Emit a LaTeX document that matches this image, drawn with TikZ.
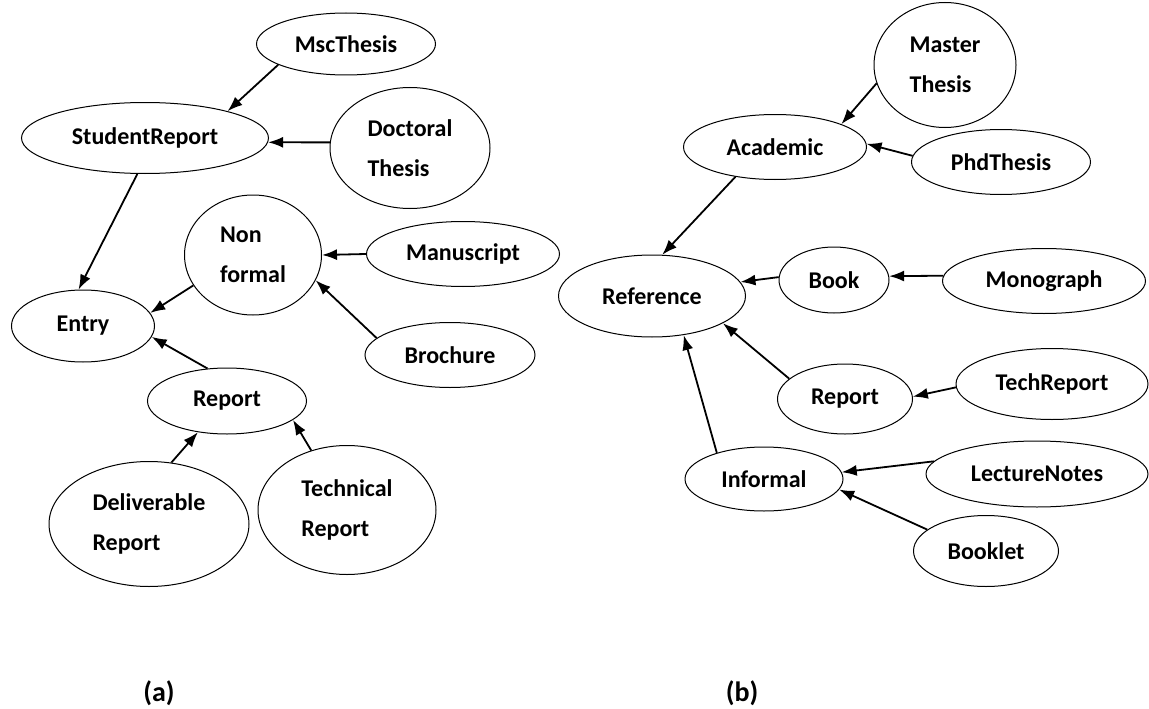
\documentclass[tikz,border=0pt]{standalone}
\usepackage{fontspec}
\setmainfont{Carlito}
\usetikzlibrary{shapes.geometric,arrows.meta}
\tikzset{
  cls/.style={draw, ellipse, line width=1pt, inner sep=0pt, align=left,
    font=\bfseries\fontsize{24}{40}\selectfont},
  isa/.style={-{Latex[length=15pt,width=11pt]}, line width=1.8pt},
  sublabel/.style={font=\bfseries\fontsize{28}{30}\selectfont}
}
\begin{document}
\begin{tikzpicture}[x=1pt,y=-1pt]
\useasboundingbox[fill=white] (0,0) rectangle (1149,709);
% (a)
\node[cls,minimum width=179pt,minimum height=62pt] (msc) at (346,44) {MscThesis};
\node[cls,minimum width=247pt,minimum height=71pt] (student) at (145,138) {StudentReport};
\node[cls,minimum width=160pt,minimum height=121pt] (doctoral) at (410,148) {Doctoral\\Thesis};
\node[cls,minimum width=137pt,minimum height=120pt] (nonformal) at (253,255) {Non\\formal};
\node[cls,minimum width=193pt,minimum height=65pt] (manuscript) at (463,254) {Manuscript};
\node[cls,minimum width=143pt,minimum height=72pt] (entry) at (83,326) {Entry};
\node[cls,minimum width=170pt,minimum height=65pt] (brochure) at (450,355) {Brochure};
\node[cls,minimum width=159pt,minimum height=66pt] (reporta) at (227,401) {Report};
\node[cls,minimum width=200pt,minimum height=125pt] (deliverable) at (149,524) {Deliverable\\Report};
\node[cls,minimum width=178pt,minimum height=129pt] (technical) at (347,510) {Technical\\Report};
\draw[isa] (msc.197) -- (student.18);
\draw[isa] (doctoral.176) -- (student.358);
\draw[isa] (student.258) -- (entry.97);
\draw[isa] (nonformal.207) -- (entry.11);
\draw[isa] (manuscript.west) -- (nonformal.east);
\draw[isa] (brochure.167) -- (nonformal.338);
\draw[isa] (reporta.121) -- (entry.351);
\draw[isa] (deliverable.70) -- (reporta.227);
\draw[isa] (technical.121) -- (reporta.344);
% (b)
\node[cls,minimum width=142pt,minimum height=125pt] (master) at (945,65) {Master\\Thesis};
\node[cls,minimum width=183pt,minimum height=65pt] (academic) at (775,147) {Academic};
\node[cls,minimum width=179pt,minimum height=65pt] (phd) at (1001,162) {PhdThesis};
\node[cls,minimum width=187pt,minimum height=82pt] (reference) at (652,296) {Reference};
\node[cls,minimum width=110pt,minimum height=66pt] (book) at (834,280) {Book};
\node[cls,minimum width=203pt,minimum height=65pt] (monograph) at (1044,281) {Monograph};
\node[cls,minimum width=135pt,minimum height=70pt] (reportb) at (845,399) {Report};
\node[cls,minimum width=192pt,minimum height=71pt] (techreport) at (1052,384) {TechReport};
\node[cls,minimum width=158pt,minimum height=64pt] (informal) at (764,479) {Informal};
\node[cls,minimum width=222pt,minimum height=66pt] (lecture) at (1037,474) {LectureNotes};
\node[cls,minimum width=145pt,minimum height=71pt] (booklet) at (986,551) {Booklet};
\draw[isa] (master.195) -- (academic.19);
\draw[isa] (phd.176) -- (academic.2);
\draw[isa] (academic.217) -- (reference.76);
\draw[isa] (book.177) -- (reference.9);
\draw[isa] (monograph.177) -- (book.4);
\draw[isa] (reportb.160) -- (reference.339);
\draw[isa] (techreport.182) -- (reportb.2);
\draw[isa] (informal.151) -- (reference.309);
\draw[isa] (lecture.173) -- (informal.5);
\draw[isa] (booklet.160) -- (informal.352);
% captions
\node[sublabel] (capa) at (159,693) {(a)};
\node[sublabel] (capb) at (742,693) {(b)};
\end{tikzpicture}
\end{document}
